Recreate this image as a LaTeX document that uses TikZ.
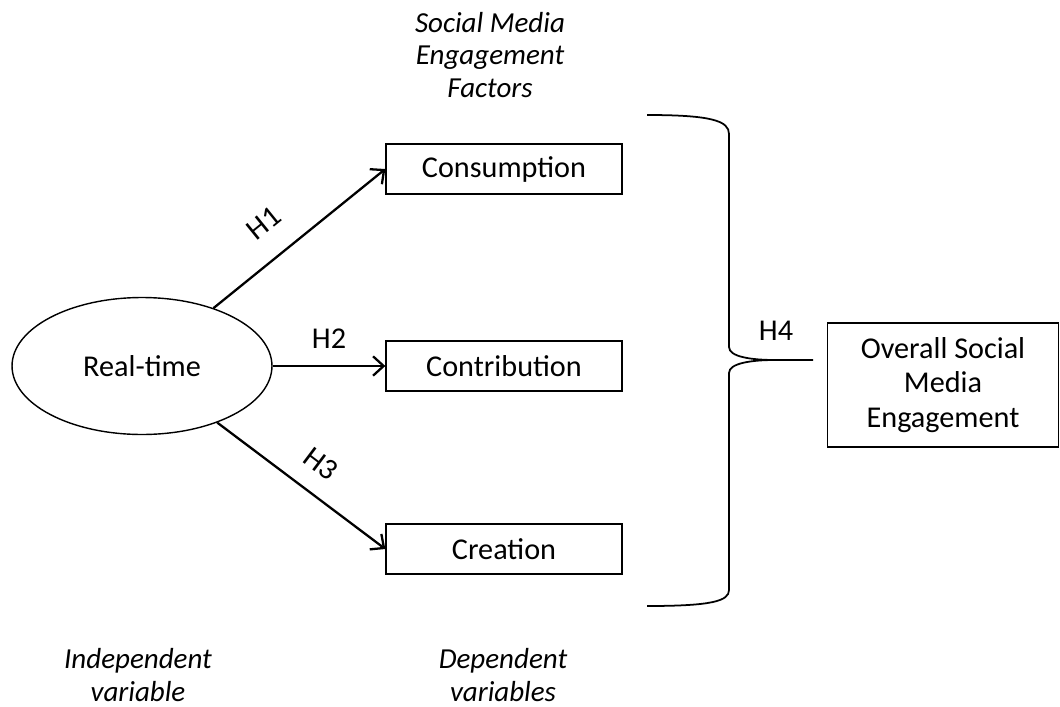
\documentclass[tikz,border=0pt]{standalone}
\usepackage{fontspec}
\setmainfont{Carlito}
\usetikzlibrary{arrows.meta, shapes.geometric}

\begin{document}
\begin{tikzpicture}[x=0.02cm, y=-0.02cm]

\tikzset{box/.style = {shape=rectangle, draw, line width=0.8pt, minimum width=4.72cm, minimum height=1cm, font=\fontsize{17.2}{19.5}\selectfont}}
\tikzset{edge/.style = {-{Straight Barb[length=6pt, width=11pt, line width=1.3pt]}, line width=1.3pt}}
\tikzset{lbl/.style = {font=\fontsize{17.2}{19.5}\selectfont}}
\tikzset{note/.style = {align=center, inner sep=1pt, font=\fontsize{16.5}{18.5}\selectfont\itshape}}
\useasboundingbox (0,0) rectangle (1060,706);
% vertices
\node[shape=ellipse, draw, line width=0.8pt, minimum width=5.2cm, minimum height=2.74cm, lbl] (rt) at (142,366) {Real-time};
\node[box] (cons) at (504,169) {Consumption};
\node[box] (cont) at (504,366) {Contribution};
\node[box] (crea) at (504,549) {Creation};
\node[box, align=center, minimum width=4.62cm, minimum height=2.48cm] (ovr) at (943,385) {Overall Social\\Media\\Engagement};
% notes
\node[note] (fac) at (490,55) {Social Media\\Engagement\\Factors};
\node[note] (ind) at (138,675) {Independent\\variable};
\node[note] (dep) at (503,675) {Dependent\\variables};
%edges
\draw[edge] (rt) -- (cons.west) node[pos=0.42, above=10pt, sloped, lbl] {H1};
\draw[edge] (rt) -- (crea.west) node[pos=0.51, above=7pt, sloped, lbl] {H3};
\draw[edge] (rt) -- (cont.west) node[midway, above=6pt, lbl] {H2};
% brace
\coordinate (bt) at (647,115);
\coordinate (bb) at (647,606);
\coordinate (tip) at (813,360);
\draw[line width=1pt] (bt) .. controls (712,115) and (729,121) .. (729,134) -- (729,347)
  .. controls (729,357) and (752,360) .. (775,360) -- (tip)
  -- (775,360) .. controls (752,360) and (729,363) .. (729,373) -- (729,590)
  .. controls (729,601) and (712,606) .. (bb);
\node[lbl] (h4) at (776,331) {H4};

\end{tikzpicture}
\end{document}
